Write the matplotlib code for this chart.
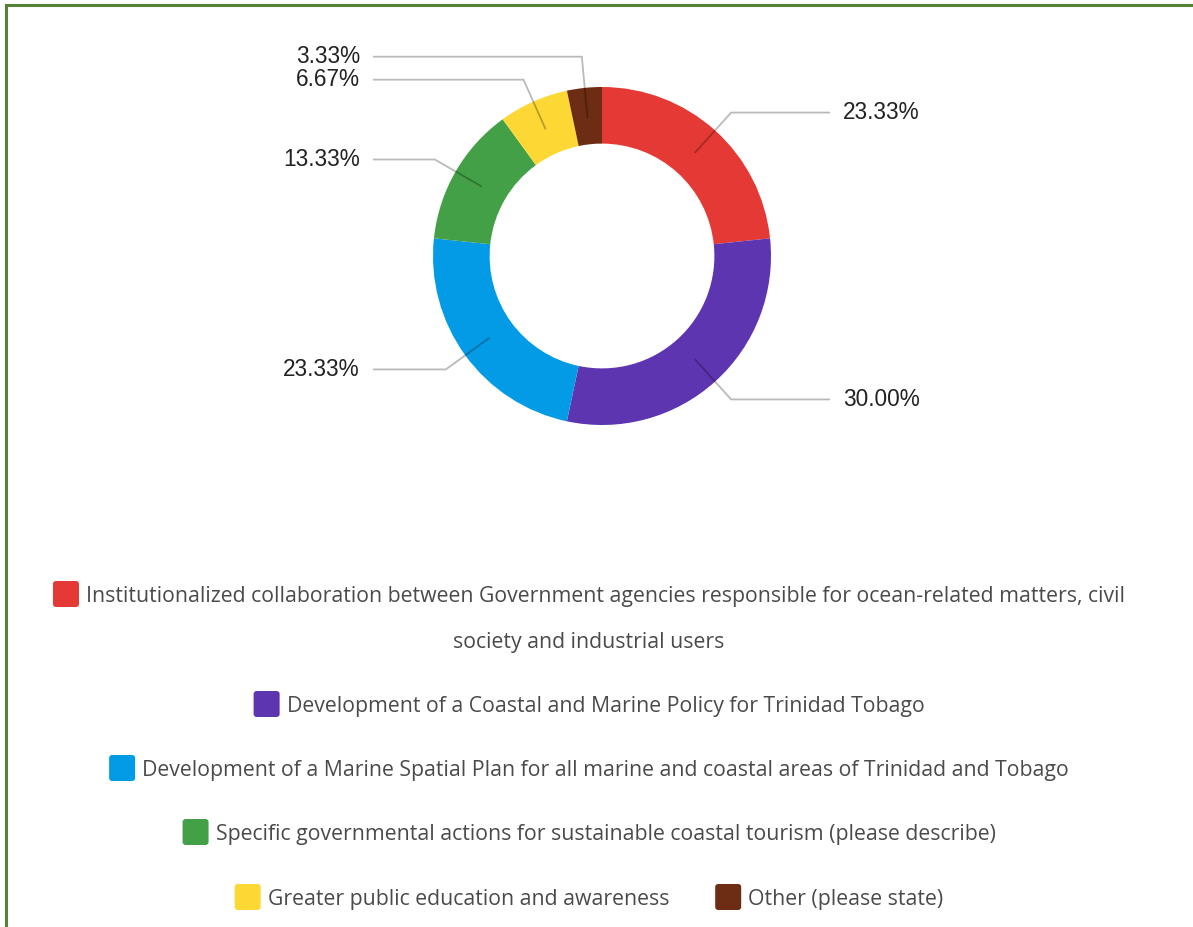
import numpy as np
import matplotlib
matplotlib.use("Agg")
import matplotlib.pyplot as plt
from matplotlib.patches import FancyBboxPatch, Rectangle

# Survey responses: share of each recommended action
categories = [
    "Institutionalized collaboration between Government agencies responsible for ocean-related matters, civil society and industrial users",
    "Development of a Coastal and Marine Policy for Trinidad Tobago",
    "Development of a Marine Spatial Plan for all marine and coastal areas of Trinidad and Tobago",
    "Specific governmental actions for sustainable coastal tourism (please describe)",
    "Greater public education and awareness",
    "Other (please state)",
]
shares = [23.33, 30.00, 23.33, 13.33, 6.67, 3.33]
colors = ["#E53935", "#5E35B1", "#039BE5", "#43A047", "#FDD835", "#6D2C14"]

# Legend layout: which categories share a row, and manual wrap of the long first entry
legend_rows = [[0], [1], [2], [3], [4, 5]]
wrapped_first = ["Institutionalized collaboration between Government agencies responsible for ocean-related matters, civil",
                 "society and industrial users"]

W, H = 1193, 927
fig = plt.figure(figsize=(W / 100, H / 100), dpi=100)
ax = fig.add_axes([0, 0, 1, 1])
ax.set_xlim(0, W)
ax.set_ylim(0, H)
ax.axis("off")


def Y(y):
    """Convert a top-down pixel row into axes coordinates."""
    return H - y


# Frame
frame_col = "#538135"
ax.add_patch(Rectangle((6, -10), W + 20, Y(5) + 10, fill=False, lw=2.2,
                       edgecolor=frame_col, zorder=0))

# Donut
cx, cy, R = 602, 256, 169
ring = 0.335
wedges, _ = ax.pie(shares, colors=colors, startangle=90, counterclock=False,
                   radius=R, center=(cx, Y(cy)),
                   wedgeprops=dict(width=R * ring, linewidth=0, antialiased=True),
                   frame=False)
ax.set_xlim(0, W)
ax.set_ylim(0, H)
ax.set_aspect("equal")

# Leader lines and percentage labels
label_font = dict(family=["Liberation Sans", "DejaVu Sans"], fontsize=16.3, color="#222222")
r_anchor = R * (1 - ring / 2) - 2
r_elbow = R + 24
right_end, left_end = 830, 373
gap_min = 23

items = []
for w, v in zip(wedges, shares):
    mid = np.deg2rad((w.theta1 + w.theta2) / 2)
    ax_pt = (cx + r_anchor * np.cos(mid), cy - r_anchor * np.sin(mid))
    el = (cx + r_elbow * np.cos(mid), cy - r_elbow * np.sin(mid))
    items.append([v, mid, ax_pt, list(el)])

# push crowded labels on the left side apart (upper ones move up)
left = sorted([it for it in items if np.cos(it[1]) < 0], key=lambda it: -it[3][1])
for i in range(1, len(left)):
    prev_y = left[i - 1][3][1]
    if prev_y - left[i][3][1] < gap_min:
        left[i][3][1] = prev_y - gap_min

for v, mid, a, el in items:
    right = np.cos(mid) >= 0
    end_x = right_end if right else left_end
    ax.plot([a[0], el[0], end_x], [Y(a[1]), Y(el[1]), Y(el[1])],
            color="black", alpha=0.27, lw=1.3, solid_capstyle="butt", zorder=5)
    ax.text(end_x + (13 if right else -13), Y(el[1]), f"{v:.2f}%",
            ha="left" if right else "right", va="center", **label_font)

# Legend
leg_font = dict(family=["Open Sans", "DejaVu Sans"], fontsize=15.3, color="#4a4a4a")
renderer = fig.canvas.get_renderer()
box, pad, between = 26, 7, 46
center_x = 589
row_y = [594, 704, 768, 832, 897]


def text_width(s):
    t = ax.text(0, 0, s, **leg_font)
    wpx = t.get_window_extent(renderer).width
    t.remove()
    return wpx


for row, y in zip(legend_rows, row_y):
    labels = [wrapped_first[0] if i == 0 else categories[i] for i in row]
    widths = [text_width(s) for s in labels]
    total = sum(box + pad + wd for wd in widths) + between * (len(row) - 1)
    x = center_x - total / 2
    for i, s, wd in zip(row, labels, widths):
        ax.add_patch(FancyBboxPatch((x + 3, Y(y) - box / 2 + 3), box - 6, box - 6,
                                    boxstyle="round,pad=3", facecolor=colors[i],
                                    edgecolor="none", zorder=3))
        ax.text(x + box + pad, Y(y), s, ha="left", va="center_baseline", **leg_font)
        x += box + pad + wd + between
    if row == [0]:
        ax.text(center_x, Y(y + 46), wrapped_first[1], ha="center",
                va="center_baseline", **leg_font)

fig.savefig("out.png", dpi=100)
